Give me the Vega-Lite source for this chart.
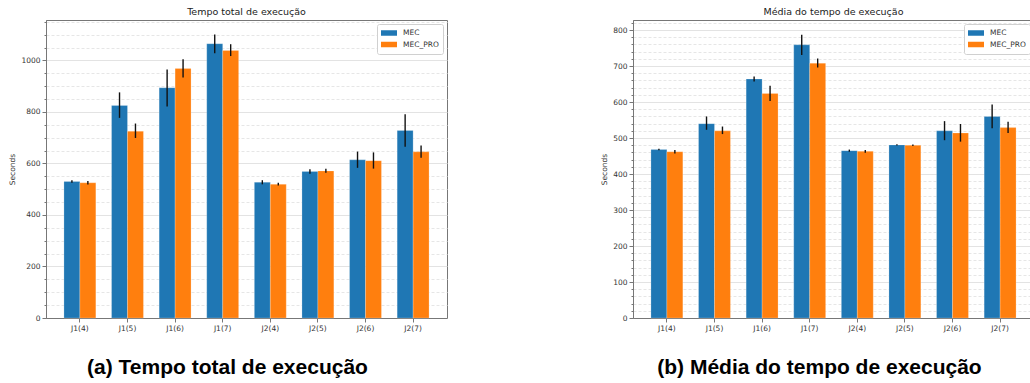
{
  "$schema": "https://vega.github.io/schema/vega-lite/v6.json",
  "padding": {"left": 8, "top": 6, "right": 0, "bottom": 0},
  "spacing": 152,
  "datasets": {
    "total": [
      {"job": "J1(4)", "impl": "MEC", "value": 530, "lo": 525, "hi": 535},
      {"job": "J1(4)", "impl": "MEC_PRO", "value": 525, "lo": 518, "hi": 532},
      {"job": "J1(5)", "impl": "MEC", "value": 825, "lo": 777, "hi": 876},
      {"job": "J1(5)", "impl": "MEC_PRO", "value": 725, "lo": 699, "hi": 755},
      {"job": "J1(6)", "impl": "MEC", "value": 894, "lo": 821, "hi": 965},
      {"job": "J1(6)", "impl": "MEC_PRO", "value": 969, "lo": 934, "hi": 1005},
      {"job": "J1(7)", "impl": "MEC", "value": 1065, "lo": 1028, "hi": 1101},
      {"job": "J1(7)", "impl": "MEC_PRO", "value": 1039, "lo": 1017, "hi": 1063},
      {"job": "J2(4)", "impl": "MEC", "value": 527, "lo": 519, "hi": 535},
      {"job": "J2(4)", "impl": "MEC_PRO", "value": 519, "lo": 514, "hi": 525},
      {"job": "J2(5)", "impl": "MEC", "value": 569, "lo": 560, "hi": 578},
      {"job": "J2(5)", "impl": "MEC_PRO", "value": 571, "lo": 564, "hi": 579},
      {"job": "J2(6)", "impl": "MEC", "value": 614, "lo": 583, "hi": 646},
      {"job": "J2(6)", "impl": "MEC_PRO", "value": 611, "lo": 580, "hi": 643},
      {"job": "J2(7)", "impl": "MEC", "value": 728, "lo": 665, "hi": 791},
      {"job": "J2(7)", "impl": "MEC_PRO", "value": 645, "lo": 622, "hi": 670}
    ],
    "media": [
      {"job": "J1(4)", "impl": "MEC", "value": 468, "lo": 466, "hi": 470},
      {"job": "J1(4)", "impl": "MEC_PRO", "value": 462, "lo": 457, "hi": 467},
      {"job": "J1(5)", "impl": "MEC", "value": 540, "lo": 523, "hi": 560},
      {"job": "J1(5)", "impl": "MEC_PRO", "value": 520, "lo": 511, "hi": 532},
      {"job": "J1(6)", "impl": "MEC", "value": 664, "lo": 657, "hi": 671},
      {"job": "J1(6)", "impl": "MEC_PRO", "value": 624, "lo": 603, "hi": 645},
      {"job": "J1(7)", "impl": "MEC", "value": 759, "lo": 731, "hi": 787},
      {"job": "J1(7)", "impl": "MEC_PRO", "value": 708, "lo": 696, "hi": 721},
      {"job": "J2(4)", "impl": "MEC", "value": 465, "lo": 462, "hi": 468},
      {"job": "J2(4)", "impl": "MEC_PRO", "value": 463, "lo": 459, "hi": 467},
      {"job": "J2(5)", "impl": "MEC", "value": 481, "lo": 479, "hi": 483},
      {"job": "J2(5)", "impl": "MEC_PRO", "value": 480, "lo": 478, "hi": 482},
      {"job": "J2(6)", "impl": "MEC", "value": 520, "lo": 494, "hi": 547},
      {"job": "J2(6)", "impl": "MEC_PRO", "value": 514, "lo": 490, "hi": 539},
      {"job": "J2(7)", "impl": "MEC", "value": 560, "lo": 527, "hi": 593},
      {"job": "J2(7)", "impl": "MEC_PRO", "value": 529, "lo": 514, "hi": 545}
    ]
  },
  "hconcat": [
    {
      "data": {"name": "total"},
      "width": 401,
      "height": 298,
      "title": {"text": "Tempo total de execução"},
      "resolve": {"axis": {"y": "independent"}},
      "layer": [
        {
          "mark": {"type": "bar", "stroke": "white", "strokeOpacity": 0.35, "strokeWidth": 0.6},
          "encoding": {
            "x": {
              "field": "job", "type": "nominal", "sort": null,
              "scale": {"paddingInner": 0.33, "paddingOuter": 0.377},
              "axis": {"title": "(a) Tempo total de execução", "titleX": 181, "titleY": 49}
            },
            "xOffset": {"field": "impl", "type": "nominal"},
            "y": {
              "field": "value", "type": "quantitative",
              "scale": {"domain": [0, 1157], "nice": false, "zero": true},
              "axis": {"title": "Seconds", "format": "d", "values": [0, 200, 400, 600, 800, 1000], "grid": true, "gridColor": "#e3e3e3", "gridWidth": 1, "orient": "left"}
            },
            "color": {
              "field": "impl", "type": "nominal",
              "scale": {"domain": ["MEC", "MEC_PRO"], "range": ["#1f77b4", "#ff7f0e"]},
              "legend": {"title": null, "orient": "top-right"}
            }
          }
        },
        {
          "mark": {"type": "rule", "color": "#111111", "strokeWidth": 1.4},
          "encoding": {
            "x": {"field": "job", "type": "nominal", "sort": null},
            "xOffset": {"field": "impl", "type": "nominal"},
            "y": {
              "field": "lo", "type": "quantitative",
              "axis": {"orient": "left", "title": null, "labels": false, "domain": false, "tickSize": 2, "grid": true, "gridDash": [3, 2], "gridColor": "#e6e6e6",
                "values": [50, 100, 150, 250, 300, 350, 450, 500, 550, 650, 700, 750, 850, 900, 950, 1050, 1100, 1150]}
            },
            "y2": {"field": "hi"}
          }
        }
      ]
    },
    {
      "data": {"name": "media"},
      "width": 401,
      "height": 298,
      "title": {"text": "Média do tempo de execução"},
      "resolve": {"axis": {"y": "independent"}},
      "layer": [
        {
          "mark": {"type": "bar", "stroke": "white", "strokeOpacity": 0.35, "strokeWidth": 0.6},
          "encoding": {
            "x": {
              "field": "job", "type": "nominal", "sort": null,
              "scale": {"paddingInner": 0.33, "paddingOuter": 0.377},
              "axis": {"title": "(b) Média do tempo de execução", "titleX": 186, "titleY": 49}
            },
            "xOffset": {"field": "impl", "type": "nominal"},
            "y": {
              "field": "value", "type": "quantitative",
              "scale": {"domain": [0, 828], "nice": false, "zero": true},
              "axis": {"title": "Seconds", "format": "d", "values": [0, 100, 200, 300, 400, 500, 600, 700, 800], "grid": true, "gridColor": "#e3e3e3", "gridWidth": 1, "orient": "left"}
            },
            "color": {
              "field": "impl", "type": "nominal",
              "scale": {"domain": ["MEC", "MEC_PRO"], "range": ["#1f77b4", "#ff7f0e"]},
              "legend": {"title": null, "orient": "top-right"}
            }
          }
        },
        {
          "mark": {"type": "rule", "color": "#111111", "strokeWidth": 1.4},
          "encoding": {
            "x": {"field": "job", "type": "nominal", "sort": null},
            "xOffset": {"field": "impl", "type": "nominal"},
            "y": {
              "field": "lo", "type": "quantitative",
              "axis": {"orient": "left", "title": null, "labels": false, "domain": false, "tickSize": 2, "grid": true, "gridDash": [3, 2], "gridColor": "#e6e6e6",
                "values": [20, 40, 60, 80, 120, 140, 160, 180, 220, 240, 260, 280, 320, 340, 360, 380, 420, 440, 460, 480, 520, 540, 560, 580, 620, 640, 660, 680, 720, 740, 760, 780, 820]}
            },
            "y2": {"field": "hi"}
          }
        }
      ]
    }
  ],
  "resolve": {"scale": {"color": "independent"}, "legend": {"color": "independent"}},
  "config": {
    "font": "DejaVu Sans",
    "view": {"stroke": "#777777", "strokeWidth": 1},
    "title": {"font": "DejaVu Sans", "fontSize": 9.5, "fontWeight": "normal", "color": "#222222", "offset": 4, "anchor": "middle"},
    "axis": {
      "labelFont": "DejaVu Sans", "labelFontSize": 7.5, "labelColor": "#333333",
      "titleFont": "DejaVu Sans", "titleFontSize": 7.5, "titleFontWeight": "normal", "titleColor": "#333333",
      "domainColor": "#777777", "tickColor": "#777777", "tickSize": 4, "labelPadding": 2, "titlePadding": 4
    },
    "axisX": {
      "grid": false, "labelAngle": 0,
      "titleFont": "Liberation Sans", "titleFontSize": 21, "titleFontWeight": "bold", "titleColor": "#000000", "titleBaseline": "middle", "titleAlign": "center"
    },
    "legend": {
      "orient": "top-right", "offset": 4, "padding": 4, "fillColor": "white", "strokeColor": "#d0d0d0",
      "symbolType": "M-1,-0.35H1V0.35H-1Z", "symbolSize": 256, "symbolStrokeWidth": 0, "symbolOpacity": 1,
      "labelFont": "DejaVu Sans", "labelFontSize": 7.5, "labelColor": "#333333", "labelOffset": 6, "rowPadding": 1.5,
      "clipHeight": 10, "cornerRadius": 2
    }
  }
}
